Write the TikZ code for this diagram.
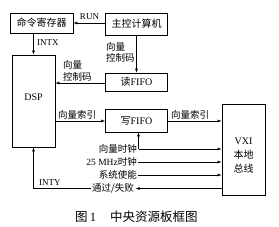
\documentclass[tikz,border=0pt]{standalone}
\usepackage{fontspec}
\setmainfont{Liberation Serif}
\newfontfamily\cjk{Noto Sans CJK SC}
\usetikzlibrary{arrows.meta}
\tikzset{
  box/.style={draw, line width=0.8pt, inner sep=0pt, font=\fontsize{10}{11}\selectfont},
  arr/.style={-{Latex[length=4pt,width=3pt]}, line width=0.6pt},
  lbl/.style={inner sep=0pt, font=\fontsize{9.5}{11}\selectfont},
  captext/.style={inner sep=0pt, font=\fontsize{12.5}{14}\selectfont, anchor=west},
}
\begin{document}
\begin{tikzpicture}[x=1pt,y=-1pt]
\useasboundingbox (0,0) rectangle (279,226);
\node[box, minimum width=63pt, minimum height=20pt] (cmd) at (41.5,23) {\cjk 命令寄存器};
\node[box, minimum width=62pt, minimum height=22pt] (host) at (136.5,24) {\cjk 主控计算机};
\node[box, minimum width=43pt, minimum height=92pt] (dsp) at (33.5,101) {};
\node[lbl, font=\fontsize{10}{11}\selectfont] (dsplbl) at (33.5,97) {DSP};
\node[box, minimum width=62pt, minimum height=18pt] (rfifo) at (136.5,82) {{\cjk 读}FIFO};
\node[box, minimum width=62pt, minimum height=23pt] (wfifo) at (136.5,120.5) {{\cjk 写}FIFO};
\node[box, minimum width=43pt, minimum height=91pt] (vxi) at (243.5,149.5) {};
\node[lbl, align=center, font=\fontsize{10}{14}\selectfont] (vxilbl) at (243.5,156) {VXI\\{\cjk 本地}\\{\cjk 总线}};

% RUN
\draw[arr] (host.west |- 0,23) -- (cmd.east |- 0,23);
\node[lbl, font=\fontsize{9}{10}\selectfont] (run) at (89.5,17) {RUN};
% INTX
\draw[arr] (dsp.north |- cmd.south) -- (dsp.north);
\node[lbl, anchor=west, font=\fontsize{9}{10}\selectfont] (intx) at (37,43) {INTX};
% host -> read fifo
\draw[arr] (host.south) -- (rfifo.north);
\node[lbl, anchor=north west, align=left, font=\fontsize{9.5}{11.5}\selectfont] (ctl1) at (106,42) {\cjk 向量\\\cjk 控制码};
% read fifo -> dsp
\draw[arr] (rfifo.west |- 0,83) -- (dsp.east |- 0,83);
\node[lbl, anchor=south west, align=left, font=\fontsize{9.5}{11.5}\selectfont] (ctl2) at (63,81) {\cjk 向量\\\cjk 控制码};
% dsp -> write fifo
\draw[arr] (dsp.east |- 0,121) -- (wfifo.west |- 0,121);
\node[lbl, anchor=south west] (idx1) at (58,119) {\cjk 向量索引};
% write fifo -> vxi
\draw[arr] (wfifo.east |- 0,121) -- (vxi.west |- 0,121);
\node[lbl, anchor=south west] (idx2) at (171,119) {\cjk 向量索引};

% lower signals
\node[lbl, anchor=east] (l1) at (137,149) {\cjk 向量时钟};
\node[lbl, anchor=east] (l2) at (137,162) {25 MHz{\cjk 时钟}};
\node[lbl, anchor=east] (l3) at (137,175) {\cjk 系统使能};
\node[lbl, anchor=east] (l4) at (134,188.5) {\cjk 通过/失败};
\coordinate (j) at (138.5,149);
\draw[arr] (j) -- (vxi.west |- j);
\draw[arr] (j) -- (wfifo.south -| j);
\draw[arr] (l2.east) ++(1,0) -- (vxi.west |- l2.east);
\draw[arr] (l3.east) ++(1,0) -- (vxi.west |- l3.east);
\draw[arr] (vxi.west |- l4.east) -- ([xshift=1.5pt]l4.east);
\draw[arr] ([xshift=-1pt]l4.west) -| (dsp.south);
\node[lbl, anchor=south west, font=\fontsize{9}{10}\selectfont] (inty) at (39,186) {INTY};

% caption
\node[captext] (cap1) at (75,217) {{\cjk 图}\,1};
\node[captext] (cap2) at (110,217) {\cjk 中央资源板框图};
\end{tikzpicture}
\end{document}
